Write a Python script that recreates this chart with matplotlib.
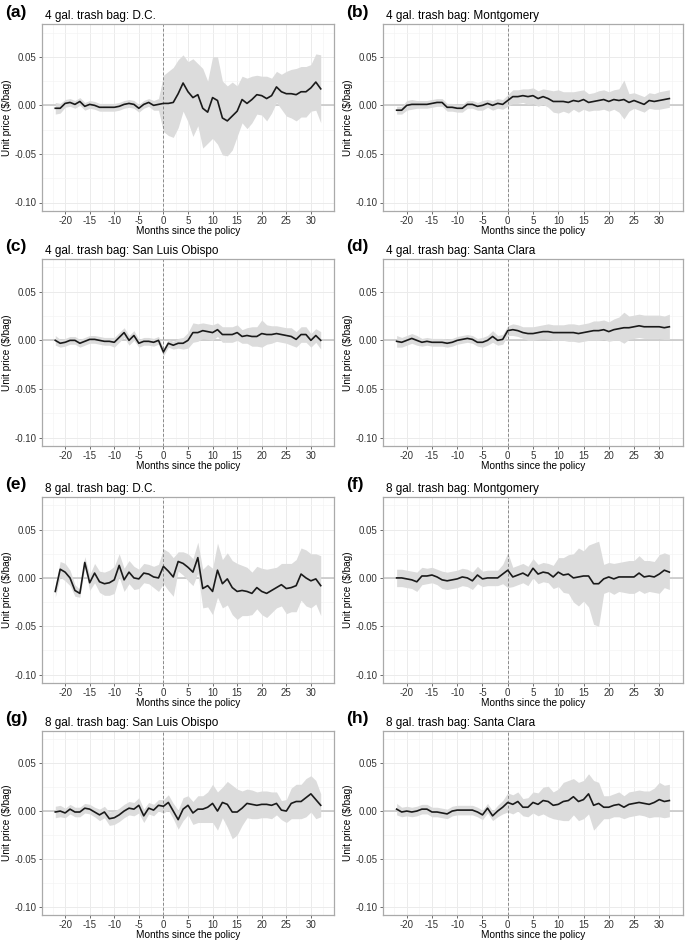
import matplotlib
matplotlib.use("Agg")
import matplotlib.pyplot as plt
import numpy as np
from matplotlib.ticker import FuncFormatter, MultipleLocator

plt.rcParams['font.family'] = ['Liberation Sans', 'DejaVu Sans']

months = np.arange(-22, 33)

titles = ["4 gal. trash bag: D.C.", "4 gal. trash bag: Montgomery",
          "4 gal. trash bag: San Luis Obispo", "4 gal. trash bag: Santa Clara",
          "8 gal. trash bag: D.C.", "8 gal. trash bag: Montgomery",
          "8 gal. trash bag: San Luis Obispo", "8 gal. trash bag: Santa Clara"]
tags = ["(a)", "(b)", "(c)", "(d)", "(e)", "(f)", "(g)", "(h)"]

# point estimates, months -22 .. 32
est_a = [-0.003, -0.003, 0.002, 0.003, 0.001, 0.004, -0.001, 0.001, 0.000, -0.002, -0.002,
         -0.002, -0.002, -0.001, 0.001, 0.002, 0.001, -0.003, 0.001, 0.003, 0.000, 0.001,
         0.002, 0.002, 0.003, 0.012, 0.023, 0.014, 0.008, 0.011, -0.003, -0.007, 0.008,
         0.005, -0.013, -0.016, -0.011, -0.006, 0.006, 0.002, 0.006, 0.011, 0.010, 0.007,
         0.010, 0.019, 0.014, 0.012, 0.012, 0.011, 0.014, 0.014, 0.018, 0.024, 0.017]
est_b = [-0.005, -0.005, 0.000, 0.001, 0.001, 0.001, 0.001, 0.002, 0.003, 0.003, -0.002,
         -0.002, -0.003, -0.003, 0.001, 0.001, -0.001, 0.000, 0.002, 0.000, 0.002, 0.001,
         0.005, 0.009, 0.009, 0.010, 0.009, 0.010, 0.007, 0.009, 0.007, 0.004, 0.004,
         0.004, 0.003, 0.005, 0.004, 0.006, 0.003, 0.004, 0.005, 0.006, 0.004, 0.006,
         0.005, 0.006, 0.003, 0.005, 0.003, 0.001, 0.005, 0.004, 0.005, 0.006, 0.007]
est_c = [0.000, -0.003, -0.002, 0.000, 0.000, -0.003, -0.001, 0.001, 0.001, 0.000, -0.001,
         -0.001, -0.002, 0.003, 0.008, 0.000, 0.005, -0.003, -0.001, -0.001, -0.002, 0.000,
         -0.012, -0.003, -0.005, -0.003, -0.003, 0.000, 0.008, 0.008, 0.010, 0.009, 0.008,
         0.011, 0.006, 0.006, 0.006, 0.008, 0.004, 0.005, 0.004, 0.004, 0.007, 0.006,
         0.006, 0.007, 0.006, 0.005, 0.004, 0.001, 0.006, 0.006, 0.000, 0.005, 0.000]
est_d = [-0.001, -0.002, 0.000, 0.002, 0.000, -0.002, -0.001, -0.002, -0.002, -0.002, -0.003,
         -0.002, 0.000, 0.001, 0.002, 0.001, -0.002, -0.002, 0.000, 0.004, 0.000, 0.001,
         0.010, 0.011, 0.010, 0.008, 0.007, 0.007, 0.008, 0.009, 0.009, 0.008, 0.008,
         0.008, 0.008, 0.008, 0.007, 0.008, 0.009, 0.010, 0.010, 0.011, 0.009, 0.011,
         0.012, 0.013, 0.013, 0.014, 0.015, 0.014, 0.014, 0.014, 0.014, 0.013, 0.014]
est_e = [-0.014, 0.009, 0.006, 0.000, -0.013, -0.016, 0.016, -0.005, 0.005, -0.004, -0.006,
         -0.005, -0.002, 0.013, -0.002, 0.006, 0.000, -0.001, 0.005, 0.004, 0.001, 0.000,
         0.012, 0.007, 0.001, 0.017, 0.015, 0.011, 0.006, 0.021, -0.011, -0.008, -0.014,
         0.008, -0.006, -0.001, -0.010, -0.014, -0.013, -0.014, -0.016, -0.010, -0.014, -0.016,
         -0.013, -0.010, -0.007, -0.011, -0.010, -0.008, 0.004, 0.000, -0.003, -0.001, -0.008]
est_f = [0.000, 0.000, -0.001, -0.002, -0.004, 0.002, 0.002, 0.003, 0.001, -0.002, -0.003,
         -0.002, -0.001, 0.001, 0.000, -0.003, 0.003, -0.001, 0.000, 0.000, 0.000, 0.004,
         0.008, 0.001, 0.003, 0.005, 0.002, 0.010, 0.004, 0.006, 0.005, 0.001, 0.006,
         0.003, 0.004, 0.000, 0.001, 0.002, 0.002, -0.006, -0.006, -0.001, 0.001, -0.001,
         0.001, 0.001, 0.001, 0.001, 0.005, 0.001, 0.002, 0.001, 0.004, 0.008, 0.006]
est_g = [-0.001, 0.000, -0.002, 0.002, -0.001, -0.001, 0.003, 0.002, -0.001, -0.004, -0.001,
         -0.008, -0.007, -0.004, 0.000, 0.003, 0.002, 0.006, -0.005, 0.003, 0.001, 0.006,
         0.005, 0.009, 0.000, -0.009, 0.002, 0.006, -0.002, 0.002, 0.002, 0.004, 0.008,
         0.000, 0.009, 0.007, -0.001, -0.001, 0.003, 0.008, 0.007, 0.006, 0.007, 0.007,
         0.006, 0.008, 0.001, 0.000, 0.008, 0.010, 0.010, 0.014, 0.018, 0.012, 0.006]
est_h = [0.002, -0.001, 0.000, -0.001, 0.000, 0.002, 0.002, -0.001, -0.001, -0.002, -0.003,
         0.000, 0.001, 0.001, 0.001, 0.001, -0.001, -0.004, 0.003, -0.005, 0.000, 0.004,
         0.009, 0.007, 0.010, 0.004, 0.004, 0.009, 0.007, 0.011, 0.010, 0.006, 0.007,
         0.010, 0.011, 0.015, 0.010, 0.012, 0.018, 0.006, 0.008, 0.004, 0.004, 0.006,
         0.007, 0.004, 0.007, 0.008, 0.009, 0.008, 0.007, 0.009, 0.012, 0.010, 0.011]

# half-width of the confidence band, months -22 .. 32
ci_a = [0.006, 0.005, 0.004, 0.004, 0.004, 0.004, 0.004, 0.004, 0.004, 0.004, 0.004,
        0.004, 0.004, 0.004, 0.004, 0.004, 0.004, 0.004, 0.004, 0.004, 0.005, 0.006,
        0.029, 0.033, 0.036, 0.035, 0.029, 0.031, 0.040, 0.032, 0.041, 0.032, 0.042,
        0.045, 0.038, 0.036, 0.035, 0.026, 0.024, 0.026, 0.024, 0.020, 0.020, 0.023,
        0.018, 0.016, 0.018, 0.023, 0.025, 0.027, 0.026, 0.026, 0.024, 0.029, 0.035]
ci_b = [0.004, 0.004, 0.005, 0.005, 0.004, 0.004, 0.004, 0.004, 0.004, 0.004, 0.004,
        0.004, 0.004, 0.004, 0.004, 0.004, 0.004, 0.005, 0.004, 0.005, 0.005, 0.005,
        0.006, 0.007, 0.007, 0.007, 0.008, 0.008, 0.008, 0.008, 0.009, 0.011, 0.012,
        0.010, 0.011, 0.009, 0.011, 0.010, 0.009, 0.009, 0.010, 0.010, 0.010, 0.010,
        0.012, 0.020, 0.009, 0.008, 0.008, 0.008, 0.008, 0.008, 0.009, 0.009, 0.009]
ci_c = [0.005, 0.004, 0.004, 0.004, 0.004, 0.004, 0.004, 0.004, 0.004, 0.004, 0.004,
        0.004, 0.005, 0.005, 0.005, 0.005, 0.005, 0.004, 0.004, 0.004, 0.004, 0.004,
        0.004, 0.004, 0.004, 0.005, 0.006, 0.008, 0.010, 0.009, 0.008, 0.008, 0.008,
        0.007, 0.008, 0.008, 0.008, 0.008, 0.007, 0.008, 0.010, 0.010, 0.014, 0.010,
        0.009, 0.008, 0.008, 0.008, 0.009, 0.008, 0.008, 0.008, 0.007, 0.007, 0.009]
ci_d = [0.006, 0.005, 0.005, 0.005, 0.005, 0.004, 0.004, 0.004, 0.004, 0.004, 0.004,
        0.004, 0.004, 0.004, 0.004, 0.004, 0.004, 0.005, 0.005, 0.006, 0.005, 0.005,
        0.005, 0.006, 0.006, 0.006, 0.007, 0.007, 0.007, 0.007, 0.008, 0.008, 0.008,
        0.008, 0.009, 0.009, 0.009, 0.009, 0.009, 0.010, 0.010, 0.010, 0.010, 0.011,
        0.012, 0.016, 0.012, 0.012, 0.012, 0.012, 0.012, 0.012, 0.012, 0.012, 0.013]
ci_e = [0.006, 0.008, 0.009, 0.008, 0.006, 0.004, 0.006, 0.008, 0.010, 0.011, 0.012,
        0.013, 0.014, 0.012, 0.012, 0.012, 0.012, 0.010, 0.010, 0.010, 0.011, 0.014,
        0.018, 0.020, 0.020, 0.010, 0.012, 0.014, 0.014, 0.016, 0.020, 0.022, 0.024,
        0.028, 0.025, 0.027, 0.028, 0.029, 0.026, 0.025, 0.022, 0.022, 0.024, 0.025,
        0.023, 0.021, 0.022, 0.026, 0.025, 0.027, 0.027, 0.029, 0.028, 0.026, 0.031]
ci_f = [0.009, 0.009, 0.009, 0.009, 0.010, 0.009, 0.008, 0.008, 0.008, 0.009, 0.009,
        0.009, 0.009, 0.009, 0.009, 0.009, 0.009, 0.008, 0.008, 0.008, 0.008, 0.010,
        0.018, 0.010, 0.010, 0.010, 0.010, 0.010, 0.010, 0.010, 0.010, 0.012, 0.015,
        0.018, 0.020, 0.025, 0.030, 0.026, 0.032, 0.042, 0.044, 0.015, 0.015, 0.016,
        0.015, 0.016, 0.017, 0.017, 0.018, 0.017, 0.016, 0.016, 0.020, 0.018, 0.018]
ci_g = [0.006, 0.006, 0.005, 0.005, 0.005, 0.005, 0.005, 0.005, 0.005, 0.006, 0.006,
        0.007, 0.007, 0.007, 0.007, 0.007, 0.007, 0.008, 0.007, 0.006, 0.006, 0.006,
        0.007, 0.008, 0.008, 0.010, 0.012, 0.010, 0.012, 0.014, 0.014, 0.016, 0.020,
        0.020, 0.016, 0.024, 0.028, 0.024, 0.018, 0.015, 0.015, 0.014, 0.014, 0.014,
        0.014, 0.012, 0.010, 0.012, 0.016, 0.018, 0.018, 0.020, 0.019, 0.020, 0.012]
ci_h = [0.006, 0.005, 0.005, 0.005, 0.005, 0.005, 0.005, 0.005, 0.005, 0.005, 0.005,
        0.005, 0.005, 0.005, 0.005, 0.005, 0.005, 0.005, 0.005, 0.005, 0.006, 0.007,
        0.010, 0.010, 0.010, 0.009, 0.010, 0.011, 0.012, 0.014, 0.016, 0.014, 0.016,
        0.020, 0.021, 0.019, 0.020, 0.020, 0.021, 0.026, 0.022, 0.012, 0.012, 0.012,
        0.013, 0.012, 0.013, 0.013, 0.013, 0.013, 0.014, 0.015, 0.018, 0.017, 0.017]

estimates = [est_a, est_b, est_c, est_d, est_e, est_f, est_g, est_h]
bands = [ci_a, ci_b, ci_c, ci_d, ci_e, ci_f, ci_g, ci_h]

W, H = 685, 941
fig = plt.figure(figsize=(W / 100, H / 100), dpi=100)

col_px = [(42, 334), (383, 683)]
row_px = [(24, 211), (259, 446), (497, 683), (731, 915)]

fmt = FuncFormatter(lambda v, p: f"{v:.2f}".replace("\u2212", "-"))

for i in range(8):
    r, c = divmod(i, 2)
    x0, x1 = col_px[c]
    y0, y1 = row_px[r]
    ax = fig.add_axes([x0 / W, 1 - y1 / H, (x1 - x0) / W, (y1 - y0) / H])

    est = np.array(estimates[i])
    hw = np.array(bands[i])
    ax.fill_between(months, est - hw, est + hw, color='#dcdcdc', lw=0, zorder=2)
    ax.axhline(0, color='#c4c4c4', lw=1.1, zorder=1.5)
    ax.axvline(0, color='#8a8a8a', lw=0.7, ls=(0, (3, 2)), zorder=2.5)
    ax.plot(months, est, color='#1a1a1a', lw=1.2, zorder=3)

    ax.set_xlim(-24.7, 34.7)
    ax.set_ylim(-0.10875, 0.08375)
    ax.xaxis.set_minor_locator(MultipleLocator(2.5))
    ax.set_yticks([-0.10, -0.05, 0.00, 0.05])
    ax.yaxis.set_minor_locator(MultipleLocator(0.025))
    ax.yaxis.set_major_formatter(fmt)
    ax.set_xticks(np.arange(-20, 31, 5))
    ax.set_xticklabels([str(v) for v in range(-20, 31, 5)])
    ax.grid(which='major', color='#ebebeb', lw=0.7, zorder=0)
    ax.grid(which='minor', color='#f4f4f4', lw=0.5, zorder=0)
    ax.set_axisbelow(True)
    ax.tick_params(which='major', length=2.5, width=0.6, color='#555555',
                   labelsize=7, labelcolor='#333333', pad=1.2)
    ax.tick_params(which='minor', length=0)
    for s in ax.spines.values():
        s.set_color('#aaaaaa')
        s.set_linewidth(0.9)

    ax.set_xlabel("Months since the policy", fontsize=7.2, labelpad=0)
    ax.set_ylabel(r"Unit price (\$/bag)", fontsize=7.2, labelpad=2)
    ax.set_title(titles[i], fontsize=8.5, loc='left', pad=3.5, x=0.01)
    fig.text((x0 - 37) / W, 1 - (y0 - 12) / H, tags[i], fontsize=12.5,
             fontweight='bold', ha='left', va='center')

fig.savefig("out.png", dpi=100)
